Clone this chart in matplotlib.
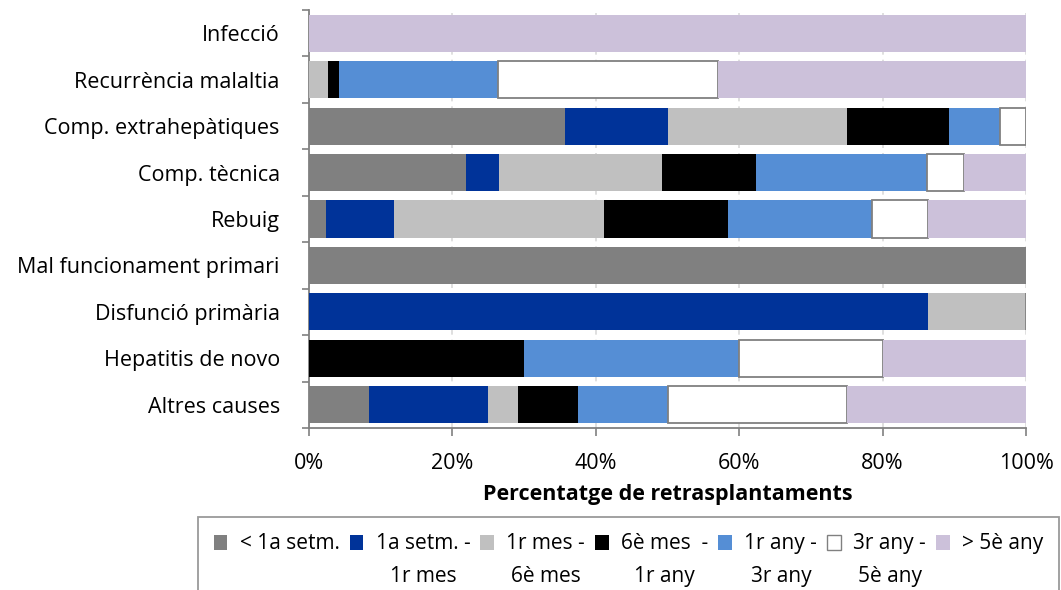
import numpy as np
import matplotlib
matplotlib.use("Agg")
import matplotlib.pyplot as plt
import matplotlib.patches as mpatches
from matplotlib.container import BarContainer
from matplotlib.legend_handler import HandlerPatch, update_from_first_child

plt.rcParams["font.family"] = ["Open Sans", "DejaVu Sans"]
FS = 15.5
LEG_FS = 15

causes = ["Infecció", "Recurrència malaltia", "Comp. extrahepàtiques", "Comp. tècnica",
          "Rebuig", "Mal funcionament primari", "Disfunció primària",
          "Hepatitis de novo", "Altres causes"]

periods = ["< 1a setm.\n ", "1a setm. -\n1r mes", "1r mes -\n6è mes", "6è mes  -\n1r any",
           "1r any -\n3r any", "3r any -\n5è any", "> 5è any\n "]

# percentage of retransplants per period (rows follow causes)
lt_1week = [0, 0, 35.7, 21.9, 2.4, 100, 0, 0, 8.3]
week_month = [0, 0, 14.3, 4.6, 9.5, 0, 86.4, 0, 16.7]
month_6month = [0, 2.7, 25.0, 22.8, 29.2, 0, 13.6, 0, 4.2]
m6_year = [0, 1.5, 14.3, 13.0, 17.4, 0, 0, 30.0, 8.3]
year_3year = [0, 22.1, 7.1, 23.9, 20.0, 0, 0, 30.0, 12.5]
y3_5year = [0, 30.8, 3.6, 5.2, 7.8, 0, 0, 20.0, 25.0]
gt_5year = [100, 42.9, 0, 8.6, 13.7, 0, 0, 20.0, 25.0]

series = [lt_1week, week_month, month_6month, m6_year, year_3year, y3_5year, gt_5year]
colors = ["#808080", "#003399", "#C0C0C0", "#000000", "#558ED5", "#FFFFFF", "#CCC1DA"]

fig = plt.figure(figsize=(10.61, 5.9), dpi=100)
ax = fig.add_axes([309 / 1061, 1 - 428 / 590, (1026 - 309) / 1061, 418 / 590])

y = np.arange(len(causes))
left = np.zeros(len(causes))
for vals, col, lab in zip(series, colors, periods):
    vals = np.array(vals)
    white = col == "#FFFFFF"
    ax.barh(y, vals, left=left, height=0.8, color=col,
            edgecolor="#808080" if white else "none",
            linewidth=1.3 if white else 0, label=lab, zorder=3)
    left += vals

ax.set_xlim(0, 100)
ax.set_ylim(len(causes) - 0.5, -0.5)
ax.set_xticks(np.arange(0, 101, 20))
ax.set_xticklabels([f"{v}%" for v in range(0, 101, 20)], fontsize=FS)
ax.set_yticks(y)
ax.set_yticklabels(causes, fontsize=FS)
ax.set_yticks(np.arange(-0.5, len(causes)), minor=True)
ax.tick_params(axis="y", which="major", length=0, pad=21)
ax.tick_params(axis="y", which="minor", length=5, color="#808080", width=1.2)
ax.tick_params(axis="x", length=6, color="#808080", width=1.2, pad=12)

ax.grid(axis="x", color="#D9D9D9", linestyle=(0, (4, 3)), linewidth=1.2, zorder=0)
for s in ["top", "right"]:
    ax.spines[s].set_visible(False)
for s in ["left", "bottom"]:
    ax.spines[s].set_color("#808080")
    ax.spines[s].set_linewidth(1.3)

ax.set_xlabel("Percentatge de retrasplantaments", fontsize=FS, fontweight="bold", labelpad=7)


def first_line_square(legend, orig_handle, xdescent, ydescent, width, height, fontsize):
    # small square next to the first line of a two-line label
    s = 0.72 * fontsize
    return mpatches.Rectangle((0, 0.85 * fontsize), s * 0.9, s)


leg = fig.legend(loc="upper left", bbox_to_anchor=(198 / 1061, 1 - 517 / 590),
                 ncol=7, fontsize=LEG_FS, frameon=True, fancybox=False,
                 edgecolor="#808080", handlelength=0.65, handleheight=0.7,
                 handletextpad=0.6, columnspacing=0.48, borderpad=0.75,
                 borderaxespad=0,
                 handler_map={BarContainer: HandlerPatch(patch_func=first_line_square,
                                                         update_func=update_from_first_child)})
leg.get_frame().set_linewidth(1.3)
for t in leg.get_texts():
    t.set_multialignment("center")
    t.set_linespacing(1.75)
for h in leg.legend_handles:
    if tuple(h.get_facecolor()[:3]) == (1.0, 1.0, 1.0):
        h.set_edgecolor("#808080")
        h.set_linewidth(1.0)

fig.savefig("out.png", dpi=100)
